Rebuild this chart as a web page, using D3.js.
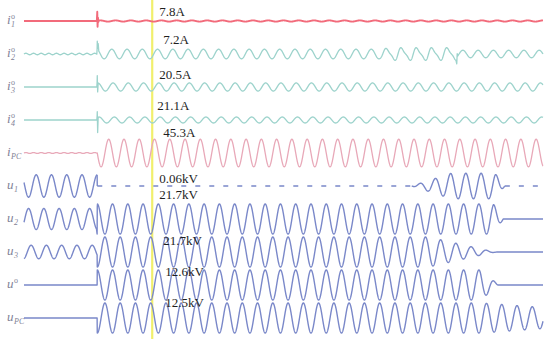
<!DOCTYPE html>
<html>
<head>
<meta charset="utf-8">
<script src="https://cdn.jsdelivr.net/npm/d3@7/dist/d3.min.js"></script>
<style>
  body { margin: 0; background: #fff; }
  svg { display: block; }
</style>
</head>
<body>
<svg id="chart" width="550" height="339"></svg>
<script>
// ─── Data (time in ms, amplitudes in per-row units) ──────────────────────────
const timeDomain = [0, 680];
const periodMs   = 20;          // 50 Hz
const faultT     = 96;
const cursorT    = 168;

const rows      = ["i1", "i2", "i3", "i4", "ipc", "u1", "u2", "u3", "u0", "upc"];
const labelBase = ["i", "i", "i", "i", "i", "u", "u", "u", "u", "u"];
const labelSub  = ["1", "2", "3", "4", "PC", "1", "2", "3", "", "PC"];
const labelSup  = ["o", "o", "o", "o", "", "", "", "", "o", ""];
const readouts  = ["7.8A", "7.2A", "20.5A", "21.1A", "45.3A", "0.06kV", "21.7kV", "21.7kV", "12.6kV", "12.5kV"];

// fundamental envelope keyframes [t, amplitude]
const envI1  = [[0, 0], [96, 0], [96, 0.04], [680, 0.04]];
const envI2  = [[0, 0], [96, 0], [96, 0.32], [465, 0.32], [480, 0.38], [566, 0.38], [567, 0.25], [680, 0.25]];
const envI3  = [[0, 0], [96, 0], [96, 0.27], [680, 0.27]];
const envI4  = [[0, 0], [96, 0], [96, 0.2], [680, 0.2]];
const envIpc = [[0, 0], [96, 0], [96, 0.92], [680, 0.92]];
const envU1  = [[0, 0.75], [96, 0.75], [96, 0], [508, 0], [560, 0.85], [617, 0.85], [630, 0], [680, 0]];
const envU2  = [[0, 0.7], [96, 0.7], [96, 1.0], [615, 1.0], [628, 0], [680, 0]];
const envU3  = [[0, 0.45], [96, 0.45], [96, 1.0], [530, 1.0], [612, 0.05], [620, 0], [680, 0]];
const envU0  = [[0, 0], [96, 0], [96, 1.0], [598, 1.0], [622, 0], [680, 0]];
const envUpc = [[0, 0], [96, 0], [96, 1.0], [600, 1.0], [680, 0.7]];

// 2nd-harmonic ripple envelopes (small wobble)
const ripI2  = [[0, 0.05], [96, 0.05], [96, 0], [465, 0], [480, 0.1], [566, 0.1], [567, 0], [680, 0]];
const ripIpc = [[0, 0.03], [96, 0.03], [96, 0], [680, 0]];
const ripNone = [[0, 0], [680, 0]];

// transient spikes [t, offset]
const spikeI1 = [[95.4, 0], [96, 0.6], [96.4, -0.4], [96.9, 0.2], [97.4, -0.1], [98, 0]];
const spikeI2 = [[95.4, 0], [96, 0.55], [96.6, 0.1], [97.2, 0.45], [98, 0], [566, 0], [567, -0.45], [567.6, 0.2], [568.2, 0]];
const spikeI3 = [[95.4, 0], [96, 0.5], [96.5, -0.6], [97.2, 0]];
const spikeI4 = [[95.4, 0], [96, 0.4], [96.5, -1.0], [97.2, 0]];
const spikeU2 = [[95, 0], [95.8, -0.3], [96.3, 0]];
const spikeNone = [[0, 0], [1, 0]];

// phase in degrees before / after the fault
const phasePre  = [0, 0, 0, 0, 0, 72, 252, 192, 0, 0];
const phasePost = [0, 90, 60, 30, 162, 20, 72, 252, 72, 252];

// ─── Layout ──────────────────────────────────────────────────────────────────
const W = 550, H = 339;
const svg = d3.select("#chart");

const x = d3.scaleLinear().domain(timeDomain).range([24, 543]);
const rowY = d3.scalePoint().domain(rows).range([21, 318]);
const halfRow = 15;

const envs   = [envI1, envI2, envI3, envI4, envIpc, envU1, envU2, envU3, envU0, envUpc];
const rips   = [ripNone, ripI2, ripNone, ripNone, ripIpc, ripNone, ripNone, ripNone, ripNone, ripNone];
const spikes = [spikeI1, spikeI2, spikeI3, spikeI4, spikeNone, spikeNone, spikeU2, spikeNone, spikeNone, spikeNone];

const colors = ["#f26b7b", "#9dd3cc", "#9dd3cc", "#9dd3cc", "#e8a8b8",
                "#7a88c9", "#7a88c9", "#7a88c9", "#7a88c9", "#7a88c9"];
const widths = [1.9, 1.3, 1.3, 1.3, 1.3, 1.4, 1.4, 1.4, 1.4, 1.4];
const dashFlat = new Set(["u1"]);

// readout label placement (relative to the cursor line / absolute baseline)
const readoutDx = [7, 11, 7, 5, 11, 7, 7, 11, 13, 13];
const readoutY  = [16, 44, 79, 110, 137, 183, 199, 245, 276, 307];

function interp(keys, t) {
    if (t <= keys[0][0]) return keys[0][1];
    for (let i = 0; i < keys.length - 1; i++) {
        const [t0, v0] = keys[i], [t1, v1] = keys[i + 1];
        if (t >= t0 && t < t1) return v0 + (v1 - v0) * (t - t0) / (t1 - t0);
    }
    return keys[keys.length - 1][1];
}

function spikeAt(keys, t) {
    if (t < keys[0][0] || t > keys[keys.length - 1][0]) return 0;
    return interp(keys, t);
}

// ─── Cursor line ─────────────────────────────────────────────────────────────
svg.append("line")
    .attr("x1", x(cursorT)).attr("x2", x(cursorT))
    .attr("y1", 0).attr("y2", H)
    .attr("stroke", "#f1ef6c")
    .attr("stroke-width", 2.2);

// ─── Traces ──────────────────────────────────────────────────────────────────
const baseTimes = d3.range(timeDomain[0], timeDomain[1] + 0.001, 0.2);

rows.forEach((name, i) => {
    const c = rowY(name);
    const y = d3.scaleLinear().domain([-1, 1]).range([c + halfRow, c - halfRow]);
    const times = Array.from(new Set(baseTimes.concat(spikes[i].map(d => d[0])))).sort((a, b) => a - b);

    const pts = times.map(t => {
        const ph = (t < faultT ? phasePre[i] : phasePost[i]) * Math.PI / 180;
        const w = 2 * Math.PI * t / periodMs;
        const a = interp(envs[i], t);
        const r = interp(rips[i], t);
        const v = a * Math.cos(w + ph) + r * Math.sin(2 * w) + spikeAt(spikes[i], t);
        return { t, v, flat: a === 0 && r === 0 };
    });

    const line = d3.line().x(d => x(d.t)).y(d => y(d.v));
    const g = svg.append("g").attr("class", "trace " + name);

    if (dashFlat.has(name)) {
        // split into live (solid) and flat (dashed) runs
        let run = [pts[0]], runs = [];
        for (let k = 1; k < pts.length; k++) {
            if (pts[k].flat !== run[0].flat) { runs.push(run); run = [pts[k - 1]]; }
            run.push(pts[k]);
        }
        runs.push(run);
        runs.forEach(r => {
            g.append("path")
                .attr("d", line(r))
                .attr("fill", "none")
                .attr("stroke", colors[i])
                .attr("stroke-width", widths[i])
                .attr("stroke-dasharray", r[0].flat && r[r.length - 1].flat ? "5,9" : null);
        });
    } else {
        g.append("path")
            .attr("d", line(pts))
            .attr("fill", "none")
            .attr("stroke", colors[i])
            .attr("stroke-width", widths[i])
            .attr("stroke-linejoin", "round");
    }

    // left-hand channel label
    const lx = 7, ly = c + 3;
    const lab = svg.append("g").attr("fill", "#7f8196")
        .attr("font-family", "'Liberation Serif', 'DejaVu Serif', serif")
        .attr("font-style", "italic");
    lab.append("text").attr("x", lx).attr("y", ly).attr("font-size", 13).text(labelBase[i]);
    const sx = lx + (labelBase[i] === "u" ? 7 : 4);
    if (labelSup[i]) {
        lab.append("text").attr("x", sx).attr("y", ly - 5).attr("font-size", 8).attr("font-style", "normal").text(labelSup[i]);
    }
    if (labelSub[i]) {
        lab.append("text").attr("x", sx).attr("y", ly + 3).attr("font-size", 8).text(labelSub[i]);
    }

    // cursor readout
    svg.append("text")
        .attr("x", x(cursorT) + readoutDx[i])
        .attr("y", readoutY[i])
        .attr("font-family", "'Liberation Serif', 'Times New Roman', serif")
        .attr("font-size", 13)
        .attr("fill", "#1e1e1e")
        .text(readouts[i]);
});
</script>
</body>
</html>
